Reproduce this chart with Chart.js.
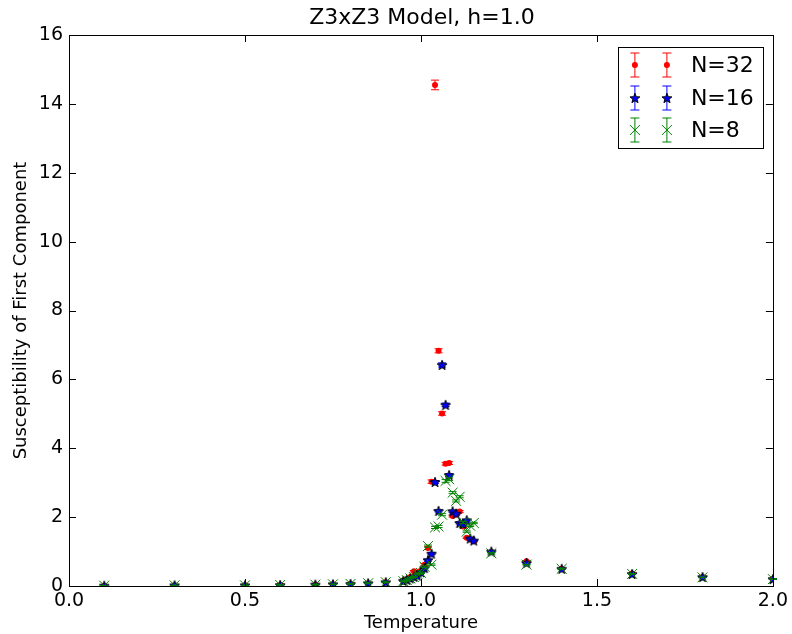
<!DOCTYPE html>
<html>
<head>
<meta charset="utf-8">
<script src="https://cdn.jsdelivr.net/npm/chart.js@4"></script>
<style>
  body { margin: 0; background: #fff; }
  canvas { display: block; }
</style>
</head>
<body>
<canvas id="chart" width="792" height="634"></canvas>
<script>
// temperatures and susceptibility values
const temps = [0.1, 0.3, 0.5, 0.6, 0.7, 0.75, 0.8, 0.85, 0.9, 0.95, 0.96, 0.97, 0.98, 0.99, 1.0, 1.01, 1.02, 1.03,
  1.04, 1.05, 1.06, 1.07, 1.08, 1.09, 1.1, 1.11, 1.12, 1.13, 1.14, 1.15, 1.2, 1.3, 1.4, 1.6, 1.8, 2.0];

const sus32 = [0.01, 0.02, 0.02, 0.03, 0.04, 0.05, 0.06, 0.08, 0.11, 0.16, 0.2, 0.26, 0.43, 0.32, 0.45, 0.62, 1.1, 3.03,
  14.55, 6.83, 5.01, 3.55, 3.57, 2.03, 2.08, 2.16, 1.73, 1.4, 1.36, 1.3, 0.99, 0.72, 0.5, 0.36, 0.26, 0.2];
const err32 = [0.005, 0.005, 0.005, 0.005, 0.005, 0.005, 0.01, 0.01, 0.01, 0.01, 0.01, 0.02, 0.02, 0.02, 0.02, 0.03, 0.04, 0.05,
  0.14, 0.06, 0.05, 0.04, 0.04, 0.03, 0.03, 0.03, 0.03, 0.02, 0.02, 0.02, 0.02, 0.02, 0.01, 0.01, 0.01, 0.01];

const sus16 = [0.01, 0.02, 0.02, 0.03, 0.04, 0.05, 0.06, 0.08, 0.11, 0.15, 0.18, 0.22, 0.27, 0.3, 0.4, 0.52, 0.75, 0.94,
  3.02, 2.18, 6.42, 5.26, 3.22, 2.17, 2.1, 1.83, 1.8, 1.91, 1.38, 1.32, 1.0, 0.67, 0.5, 0.35, 0.26, 0.2];
const err16 = [0.005, 0.005, 0.005, 0.005, 0.005, 0.005, 0.01, 0.01, 0.01, 0.01, 0.01, 0.01, 0.02, 0.02, 0.02, 0.02, 0.03, 0.03,
  0.04, 0.03, 0.06, 0.05, 0.04, 0.03, 0.03, 0.03, 0.02, 0.02, 0.02, 0.02, 0.02, 0.01, 0.01, 0.01, 0.01, 0.01];

const sus8 = [0.01, 0.02, 0.02, 0.03, 0.04, 0.05, 0.06, 0.08, 0.11, 0.14, 0.17, 0.22, 0.26, 0.35, 0.38, 0.56, 1.16, 0.62,
  1.7, 1.73, 2.07, 3.05, 3.1, 2.71, 2.47, 2.59, 1.85, 1.58, 1.75, 1.83, 0.95, 0.62, 0.5, 0.35, 0.25, 0.2];
const err8 = [0.005, 0.005, 0.005, 0.005, 0.005, 0.005, 0.01, 0.01, 0.01, 0.01, 0.01, 0.01, 0.01, 0.02, 0.02, 0.02, 0.03, 0.02,
  0.03, 0.03, 0.03, 0.04, 0.04, 0.03, 0.03, 0.03, 0.03, 0.02, 0.02, 0.02, 0.02, 0.01, 0.01, 0.01, 0.01, 0.01];

const xTicks = [0.0, 0.5, 1.0, 1.5, 2.0];
const yTicks = [0, 2, 4, 6, 8, 10, 12, 14, 16];
const seriesNames = ['N=32', 'N=16', 'N=8'];

const FONT = 'DejaVu Sans';

// filled star marker like matplotlib '*'
function makeStar() {
  const c = document.createElement('canvas');
  c.width = 14; c.height = 14;
  const g = c.getContext('2d');
  g.beginPath();
  for (let i = 0; i < 10; i++) {
    const r = i % 2 === 0 ? 5.2 : 2.2;
    const a = -Math.PI / 2 + i * Math.PI / 5;
    const px = 7 + r * Math.cos(a), py = 7.5 + r * Math.sin(a);
    if (i === 0) g.moveTo(px, py); else g.lineTo(px, py);
  }
  g.closePath();
  g.fillStyle = '#0000ff';
  g.fill();
  g.lineWidth = 1;
  g.strokeStyle = '#000';
  g.stroke();
  return c;
}
const star = makeStar();

function points(vals, errs) {
  return temps.map((t, i) => ({ x: t, y: vals[i], e: errs[i] }));
}

function drawBar(ctx, x, yTop, yBot, cap, color) {
  ctx.strokeStyle = color;
  ctx.lineWidth = 1;
  ctx.beginPath();
  ctx.moveTo(x, yTop); ctx.lineTo(x, yBot);
  ctx.moveTo(x - cap, yTop); ctx.lineTo(x + cap, yTop);
  ctx.moveTo(x - cap, yBot); ctx.lineTo(x + cap, yBot);
  ctx.stroke();
}

// error bars go under each dataset's markers
const errorBars = {
  id: 'errorBars',
  beforeDatasetDraw(chart, args) {
    const ds = chart.data.datasets[args.index];
    const xs = chart.scales.x, ys = chart.scales.y;
    const ctx = chart.ctx;
    ctx.save();
    ds.data.forEach(p => {
      const x = xs.getPixelForValue(p.x);
      drawBar(ctx, x, ys.getPixelForValue(p.y + p.e), ys.getPixelForValue(p.y - p.e), 4, ds.barColor);
    });
    ctx.restore();
  }
};

// frame, inward ticks, title and legend in matplotlib style
const decor = {
  id: 'decor',
  afterDraw(chart) {
    const ctx = chart.ctx;
    const a = chart.chartArea;
    const xs = chart.scales.x, ys = chart.scales.y;
    ctx.save();
    ctx.strokeStyle = '#000';
    ctx.lineWidth = 1;
    ctx.strokeRect(Math.round(a.left) + 0.5, Math.round(a.top) + 0.5, Math.round(a.right - a.left), Math.round(a.bottom - a.top));

    const tl = 7;
    ctx.beginPath();
    xTicks.forEach(v => {
      const x = Math.round(xs.getPixelForValue(v)) + 0.5;
      ctx.moveTo(x, a.bottom); ctx.lineTo(x, a.bottom - tl);
      ctx.moveTo(x, a.top); ctx.lineTo(x, a.top + tl);
    });
    yTicks.forEach(v => {
      const y = Math.round(ys.getPixelForValue(v)) + 0.5;
      ctx.moveTo(a.left, y); ctx.lineTo(a.left + tl, y);
      ctx.moveTo(a.right, y); ctx.lineTo(a.right - tl, y);
    });
    ctx.stroke();

    // title
    ctx.fillStyle = '#000';
    ctx.font = '22px "' + FONT + '"';
    ctx.textAlign = 'center';
    ctx.textBaseline = 'middle';
    ctx.fillText('Z3xZ3 Model, h=1.0', (a.left + a.right) / 2 + 1, a.top - 17);

    // legend
    const bx = a.right - 155, by = a.top + 12, bw = 145, bh = 101;
    ctx.fillStyle = '#fff';
    ctx.fillRect(bx, by, bw, bh);
    ctx.strokeRect(Math.round(bx) + 0.5, Math.round(by) + 0.5, bw, bh);
    const rows = [by + 18, by + 51, by + 83];
    chart.data.datasets.forEach((ds, i) => {
      const y = rows[i];
      [bx + 17, bx + 49].forEach(mx => {
        drawBar(ctx, mx, y - 12, y + 12, 4.5, ds.barColor);
        if (ds.pointStyle === 'circle') {
          ctx.fillStyle = ds.pointBackgroundColor;
          ctx.beginPath(); ctx.arc(mx, y, 3, 0, Math.PI * 2); ctx.fill();
        } else if (ds.pointStyle === 'crossRot') {
          ctx.strokeStyle = ds.pointBorderColor;
          ctx.beginPath();
          ctx.moveTo(mx - 5, y - 5); ctx.lineTo(mx + 5, y + 5);
          ctx.moveTo(mx - 5, y + 5); ctx.lineTo(mx + 5, y - 5);
          ctx.stroke();
        } else {
          ctx.drawImage(star, mx - 7, y - 7);
        }
      });
      ctx.fillStyle = '#000';
      ctx.font = '22px "' + FONT + '"';
      ctx.textAlign = 'left';
      ctx.textBaseline = 'middle';
      ctx.fillText(ds.label, bx + 73, y + 1);
    });
    ctx.restore();
  }
};

new Chart(document.getElementById('chart'), {
  type: 'scatter',
  data: {
    datasets: [
      {
        label: seriesNames[0], data: points(sus32, err32), order: 3, barColor: '#ff0000',
        pointStyle: 'circle', pointRadius: 3, pointBorderWidth: 0,
        pointBackgroundColor: '#ff0000', pointBorderColor: '#ff0000'
      },
      {
        label: seriesNames[1], data: points(sus16, err16), order: 2, barColor: '#0000ff',
        pointStyle: star, pointRadius: 5, pointBackgroundColor: '#0000ff', pointBorderColor: '#000'
      },
      {
        label: seriesNames[2], data: points(sus8, err8), order: 1, barColor: '#008000',
        pointStyle: 'crossRot', pointRadius: 7, pointBorderWidth: 1,
        pointBackgroundColor: '#008000', pointBorderColor: '#008000'
      }
    ]
  },
  options: {
    responsive: false,
    animation: false,
    devicePixelRatio: 1,
    layout: { padding: { top: 35, right: 18, left: 0, bottom: 0 } },
    plugins: { legend: { display: false }, tooltip: { enabled: false } },
    scales: {
      x: {
        type: 'linear', min: 0, max: 2,
        afterBuildTicks: s => { s.ticks = xTicks.map(v => ({ value: v })); },
        afterFit: s => { s.height = 48; },
        grid: { display: false, drawTicks: false },
        border: { display: false },
        ticks: { padding: 4, color: '#000', font: { family: FONT, size: 19 }, maxRotation: 0,
          callback: v => v.toFixed(1) },
        title: { display: true, text: 'Temperature', color: '#000', font: { family: FONT, size: 18 },
          padding: { top: 0, bottom: 0 } }
      },
      y: {
        type: 'linear', min: 0, max: 16,
        afterBuildTicks: s => { s.ticks = yTicks.map(v => ({ value: v })); },
        afterFit: s => { s.width = 69; },
        grid: { display: false, drawTicks: false },
        border: { display: false },
        ticks: { padding: 6, color: '#000', font: { family: FONT, size: 19 } },
        title: { display: true, text: 'Susceptibility of First Component', color: '#000',
          font: { family: FONT, size: 18 }, padding: { top: 11, bottom: 0 } }
      }
    }
  },
  plugins: [errorBars, decor]
});
</script>
</body>
</html>
